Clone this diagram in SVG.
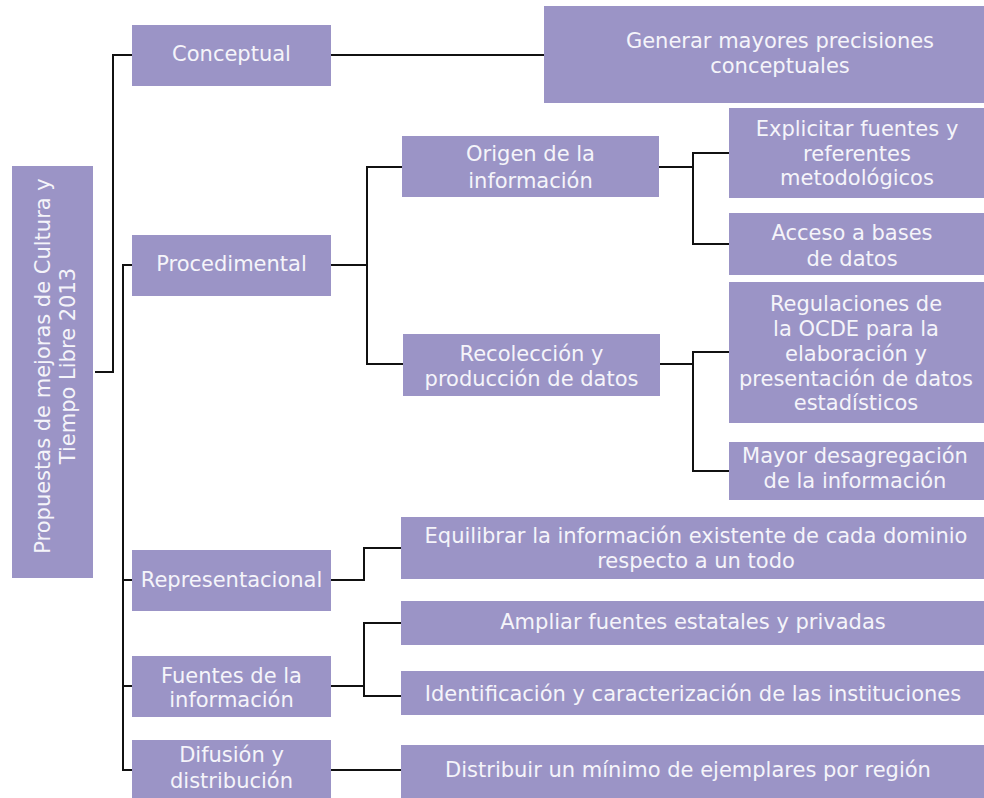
<svg xmlns="http://www.w3.org/2000/svg" width="984" height="798" viewBox="0 0 984 798">
<style>
.box{fill:#9b94c6;}
.t{font-family:"DejaVu Sans","Liberation Sans",sans-serif;font-size:21px;fill:#f5f4fa;text-anchor:middle;}
.c{fill:none;stroke:#111;stroke-width:2;}
</style>
<rect x="0" y="0" width="984" height="798" fill="#ffffff"/>
<g id="connectors">
<path class="c" d="M95,372 H113 V55 H132"/>
<path class="c" d="M132,265 H123 V770 H132 M123,580 H132 M123,686 H132"/>
<path class="c" d="M331,55 H544"/>
<path class="c" d="M331,265 H367 M402,167 H367 V364 H403"/>
<path class="c" d="M659,167 H693 M729,153 H693 V244 H729"/>
<path class="c" d="M660,364 H693 M729,352 H693 V471 H729"/>
<path class="c" d="M331,580 H364 V548 H401"/>
<path class="c" d="M331,686 H364 M401,623 H364 V696 H401"/>
<path class="c" d="M331,770 H401"/>
</g>
<g id="root">
<rect class="box" x="12" y="166" width="81" height="412"/>
<text class="t" transform="translate(50,366) rotate(-90)">Propuestas de mejoras de Cultura y</text>
<text class="t" transform="translate(75,366) rotate(-90)">Tiempo Libre 2013</text>
</g>
<g id="conceptual">
<rect class="box" x="132" y="25" width="199" height="61"/>
<text class="t" x="231.5" y="61">Conceptual</text>
</g>
<g id="procedimental">
<rect class="box" x="132" y="235" width="199" height="61"/>
<text class="t" x="231.5" y="271">Procedimental</text>
</g>
<g id="representacional">
<rect class="box" x="132" y="550" width="199" height="61"/>
<text class="t" x="231.5" y="587">Representacional</text>
</g>
<g id="fuentes">
<rect class="box" x="132" y="656" width="199" height="61"/>
<text class="t" x="231.5" y="683">Fuentes de la</text>
<text class="t" x="231.5" y="707">información</text>
</g>
<g id="difusion">
<rect class="box" x="132" y="740" width="199" height="58"/>
<text class="t" x="231.5" y="762">Difusión y</text>
<text class="t" x="231.5" y="788">distribución</text>
</g>
<g id="generar">
<rect class="box" x="544" y="6" width="440" height="97"/>
<text class="t" x="780" y="48">Generar mayores precisiones</text>
<text class="t" x="780" y="73">conceptuales</text>
</g>
<g id="origen">
<rect class="box" x="402" y="136" width="257" height="61"/>
<text class="t" x="530.5" y="161">Origen de la</text>
<text class="t" x="530.5" y="188">información</text>
</g>
<g id="recoleccion">
<rect class="box" x="403" y="334" width="257" height="62"/>
<text class="t" x="531.5" y="361">Recolección y</text>
<text class="t" x="531.5" y="386">producción de datos</text>
</g>
<g id="explicitar">
<rect class="box" x="729" y="108" width="255" height="90"/>
<text class="t" x="857" y="136">Explicitar fuentes y</text>
<text class="t" x="857" y="161">referentes</text>
<text class="t" x="857" y="185">metodológicos</text>
</g>
<g id="acceso">
<rect class="box" x="729" y="213" width="255" height="62"/>
<text class="t" x="852" y="240">Acceso a bases</text>
<text class="t" x="852" y="266">de datos</text>
</g>
<g id="regulaciones">
<rect class="box" x="729" y="282" width="255" height="141"/>
<text class="t" x="856" y="311">Regulaciones de</text>
<text class="t" x="856" y="336">la OCDE para la</text>
<text class="t" x="856" y="361">elaboración y</text>
<text class="t" x="856" y="386">presentación de datos</text>
<text class="t" x="856" y="410">estadísticos</text>
</g>
<g id="mayor">
<rect class="box" x="729" y="442" width="255" height="58"/>
<text class="t" x="855" y="463">Mayor desagregación</text>
<text class="t" x="855" y="488">de la información</text>
</g>
<g id="equilibrar">
<rect class="box" x="401" y="517" width="583" height="62"/>
<text class="t" x="696" y="543">Equilibrar la información existente de cada dominio</text>
<text class="t" x="696" y="568">respecto a un todo</text>
</g>
<g id="ampliar">
<rect class="box" x="401" y="601" width="583" height="44"/>
<text class="t" x="693" y="629">Ampliar fuentes estatales y privadas</text>
</g>
<g id="identificacion">
<rect class="box" x="401" y="671" width="583" height="44"/>
<text class="t" x="693" y="701">Identificación y caracterización de las instituciones</text>
</g>
<g id="distribuir">
<rect class="box" x="401" y="745" width="583" height="53"/>
<text class="t" x="688" y="777">Distribuir un mínimo de ejemplares por región</text>
</g>
</svg>
